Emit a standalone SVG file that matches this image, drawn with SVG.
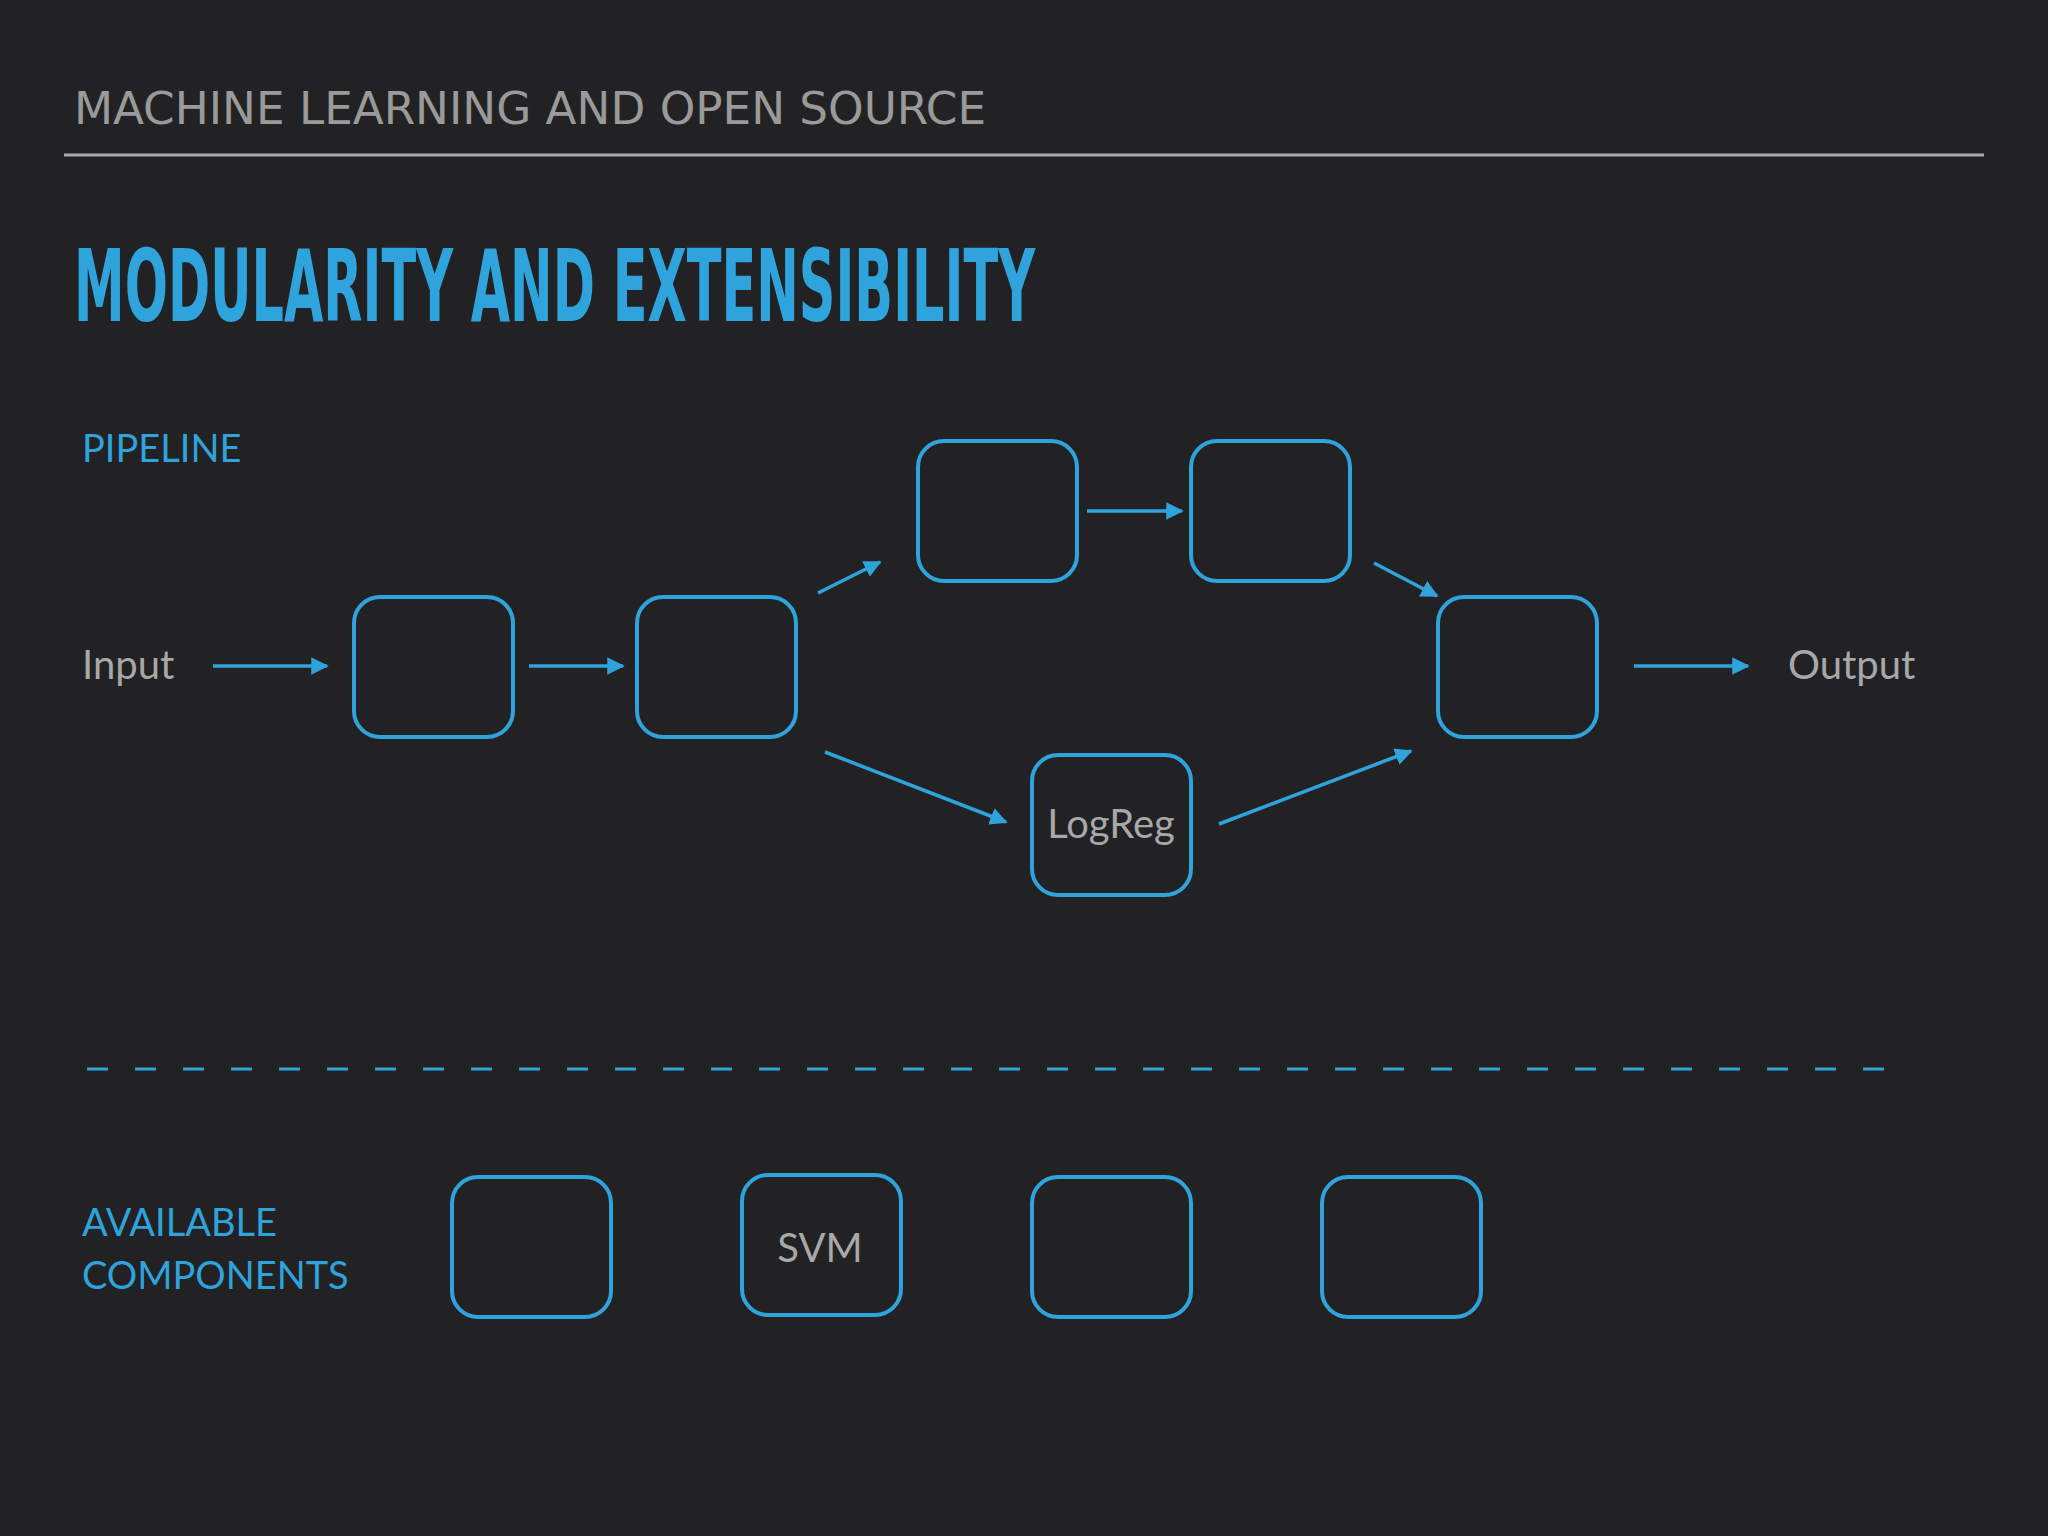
<svg xmlns="http://www.w3.org/2000/svg" width="2048" height="1536" viewBox="0 0 2048 1536">
<defs>
<style>
.node{fill:#222224;stroke:#2ea3dc;stroke-width:4}
.conn{stroke:#2ea3dc;stroke-width:3.5;fill:none;marker-end:url(#ah)}
.lbl{font-family:"Lato","Open Sans",sans-serif;fill:#a8a8a8;font-size:40px}
.blue{font-family:"Lato","Open Sans",sans-serif;fill:#2ea3dc;font-size:38px}
</style>
<marker id="ah" viewBox="0 0 10 10" refX="9" refY="5" markerWidth="5" markerHeight="5" markerUnits="strokeWidth" orient="auto">
<path d="M0,0 L10,5 L0,10 z" fill="#2ea3dc"/>
</marker>
</defs>
<rect width="2048" height="1536" fill="#222224"/>
<text x="74" y="124" font-family="'DejaVu Sans Condensed','DejaVu Sans',sans-serif" font-size="44" fill="#9a9a9a" textLength="912" lengthAdjust="spacingAndGlyphs">MACHINE LEARNING AND OPEN SOURCE</text>
<line x1="64" y1="155" x2="1984" y2="155" stroke="#aaaaaa" stroke-width="3"/>
<text x="74" y="321" font-family="'DejaVu Sans Condensed','DejaVu Sans',sans-serif" font-weight="bold" font-size="100" fill="#2ea3dc" textLength="961" lengthAdjust="spacingAndGlyphs">MODULARITY AND EXTENSIBILITY</text>
<text class="blue" x="82" y="462">PIPELINE</text>
<text class="lbl" x="82" y="679">Input</text>
<text class="lbl" x="1788" y="679">Output</text>
<g id="n1"><rect class="node" x="354" y="597" width="159" height="140" rx="26"/></g>
<g id="n2"><rect class="node" x="637" y="597" width="159" height="140" rx="26"/></g>
<g id="n3"><rect class="node" x="918" y="441" width="159" height="140" rx="26"/></g>
<g id="n4"><rect class="node" x="1191" y="441" width="159" height="140" rx="26"/></g>
<g id="n5"><rect class="node" x="1438" y="597" width="159" height="140" rx="26"/></g>
<g id="logreg"><rect class="node" x="1032" y="755" width="159" height="140" rx="26"/><text class="lbl" x="1111" y="838" text-anchor="middle">LogReg</text></g>
<g id="connectors">
<line class="conn" x1="213" y1="666" x2="327" y2="666"/>
<line class="conn" x1="529" y1="666" x2="623" y2="666"/>
<line class="conn" x1="818" y1="593" x2="880" y2="562"/>
<line class="conn" x1="1087" y1="511" x2="1182" y2="511"/>
<line class="conn" x1="1374" y1="563" x2="1437" y2="596"/>
<line class="conn" x1="825" y1="752" x2="1006" y2="822"/>
<line class="conn" x1="1219" y1="824" x2="1411" y2="751"/>
<line class="conn" x1="1634" y1="666" x2="1748" y2="666"/>
</g>
<line x1="87" y1="1069" x2="1890" y2="1069" stroke="#2ea3dc" stroke-width="3" stroke-dasharray="21 27"/>
<text class="blue" x="82" y="1236">AVAILABLE</text>
<text class="blue" x="82" y="1289">COMPONENTS</text>
<g id="c1"><rect class="node" x="452" y="1177" width="159" height="140" rx="26"/></g>
<g id="svm"><rect class="node" x="742" y="1175" width="159" height="140" rx="26"/><text class="lbl" x="820" y="1262" text-anchor="middle">SVM</text></g>
<g id="c3"><rect class="node" x="1032" y="1177" width="159" height="140" rx="26"/></g>
<g id="c4"><rect class="node" x="1322" y="1177" width="159" height="140" rx="26"/></g>
</svg>
